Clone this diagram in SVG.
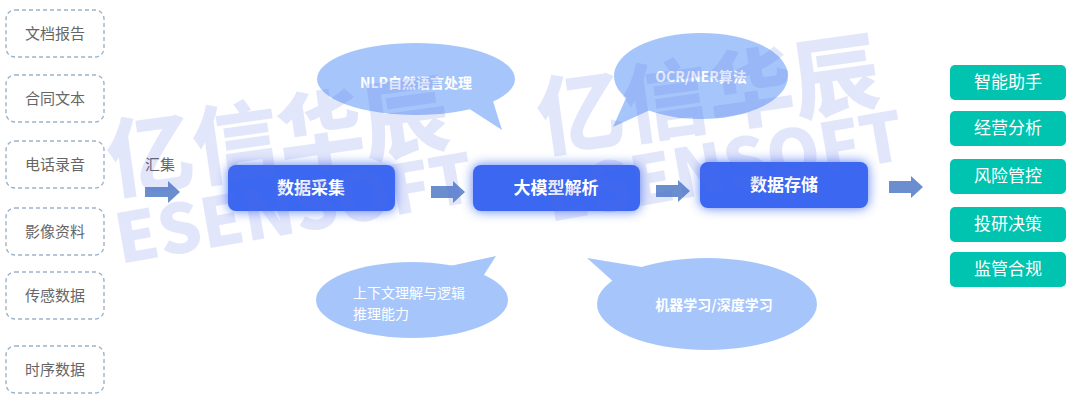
<svg xmlns="http://www.w3.org/2000/svg" width="1080" height="401" viewBox="0 0 1080 401">
<style>
.src rect{fill:#fff;stroke:#9cb2cb;stroke-width:1.4;stroke-dasharray:4 3}
.src text{font-family:"Noto Sans CJK SC","Liberation Serif",serif;font-size:15px;fill:#666;text-anchor:middle}
.main rect.box{fill:#3b67f1}
.main rect.glow{fill:#3b67f1;opacity:0.85;filter:url(#glow)}
.main text{font-family:"Noto Sans CJK SC",sans-serif;font-size:17px;font-weight:700;fill:#fff;text-anchor:middle}
.bub{fill:#a6c6fb}
.btext{font-family:"Noto Sans CJK SC",sans-serif;font-size:14px;fill:#fff;text-anchor:middle}
.btext.left{text-anchor:start}
.out rect{fill:#00c4b0}
.out text{font-family:"Noto Sans CJK SC",serif;font-size:17px;fill:#fff;text-anchor:middle}
.arr{fill:#6b8fce}
.wm{font-family:"Noto Sans CJK SC",sans-serif;font-weight:900;fill:#5b6fe3;opacity:0.17}
</style>
<defs>
<filter id="glow" x="-30%" y="-60%" width="160%" height="220%"><feGaussianBlur stdDeviation="6"/></filter>
</defs>
<rect width="1080" height="401" fill="#fff"/>

<g id="src-1" class="src"><rect x="6" y="10" width="98" height="47" rx="9"/><text x="55" y="39">文档报告</text></g>
<g id="src-2" class="src"><rect x="6" y="75" width="98" height="47" rx="9"/><text x="55" y="104">合同文本</text></g>
<g id="src-3" class="src"><rect x="6" y="141" width="98" height="47" rx="9"/><text x="55" y="170">电话录音</text></g>
<g id="src-4" class="src"><rect x="6" y="208" width="98" height="47" rx="9"/><text x="55" y="237">影像资料</text></g>
<g id="src-5" class="src"><rect x="6" y="272" width="98" height="47" rx="9"/><text x="55" y="301">传感数据</text></g>
<g id="src-6" class="src"><rect x="6" y="346" width="98" height="47" rx="9"/><text x="55" y="375">时序数据</text></g>

<g id="bubbles">
<g id="bubble-nlp"><ellipse class="bub" cx="416" cy="79" rx="99" ry="36"/><polygon class="bub" points="468,108 502,130 492,98"/><text class="btext" x="416" y="88" font-weight="700">NLP自然语言处理</text></g>
<g id="bubble-ocr"><ellipse class="bub" cx="701" cy="76" rx="87" ry="43"/><polygon class="bub" points="626,98 613,127 650,110"/><text class="btext" x="701" y="82" font-weight="700">OCR/NER算法</text></g>
<g id="bubble-ctx"><ellipse class="bub" cx="412" cy="300" rx="96" ry="38"/><polygon class="bub" points="450,266 496,256 482,278"/><text class="btext left" x="353" y="298">上下文理解与逻辑</text><text class="btext left" x="353" y="319">推理能力</text></g>
<g id="bubble-ml"><ellipse class="bub" cx="707" cy="304" rx="110" ry="46"/><polygon class="bub" points="648,268 587,258 616,284"/><text class="btext" x="714" y="310" font-weight="700">机器学习/深度学习</text></g>
</g>

<g id="main-1" class="main"><rect class="glow" x="228" y="165" width="167" height="46" rx="8"/><rect class="box" x="228" y="165" width="167" height="46" rx="8"/><text x="311" y="194">数据采集</text></g>
<g id="main-2" class="main"><rect class="glow" x="473" y="165" width="167" height="46" rx="8"/><rect class="box" x="473" y="165" width="167" height="46" rx="8"/><text x="556" y="194">大模型解析</text></g>
<g id="main-3" class="main"><rect class="glow" x="700" y="162" width="168" height="46" rx="8"/><rect class="box" x="700" y="162" width="168" height="46" rx="8"/><text x="784" y="191">数据存储</text></g>

<g id="label-huiji"><text x="145" y="170" font-family="Noto Sans CJK SC, serif" font-size="15" fill="#666">汇集</text></g>

<g id="connectors">
<polygon class="arr" points="145,187 168,187 168,181 180,192 168,203 168,197 145,197"/>
<polygon class="arr" points="431,186 453,186 453,181 465,192 453,203 453,198 431,198"/>
<polygon class="arr" points="656,185 678,185 678,180 690,191 678,202 678,197 656,197"/>
<polygon class="arr" points="889,181 911,181 911,176 923,187 911,198 911,193 889,193"/>
</g>

<g id="out-1" class="out"><rect x="950" y="65" width="116" height="35" rx="5"/><text x="1008" y="88">智能助手</text></g>
<g id="out-2" class="out"><rect x="950" y="111" width="116" height="35" rx="5"/><text x="1008" y="134">经营分析</text></g>
<g id="out-3" class="out"><rect x="950" y="159" width="116" height="35" rx="5"/><text x="1008" y="182">风险管控</text></g>
<g id="out-4" class="out"><rect x="950" y="207" width="116" height="35" rx="5"/><text x="1008" y="230">投研决策</text></g>
<g id="out-5" class="out"><rect x="950" y="252" width="116" height="35" rx="5"/><text x="1008" y="275">监管合规</text></g>

<g id="watermark">
<g>
<text class="wm" font-size="86" transform="translate(112,192) rotate(-8)">亿信华辰</text>
<text class="wm" font-size="68" font-family="Liberation Sans, sans-serif" transform="translate(120,264) rotate(-10)">ESENSOFT</text>
</g>
<g transform="translate(430,-42)">
<text class="wm" font-size="86" transform="translate(112,192) rotate(-8)">亿信华辰</text>
<text class="wm" font-size="68" font-family="Liberation Sans, sans-serif" transform="translate(120,264) rotate(-10)">ESENSOFT</text>
</g>
</g>
</svg>
